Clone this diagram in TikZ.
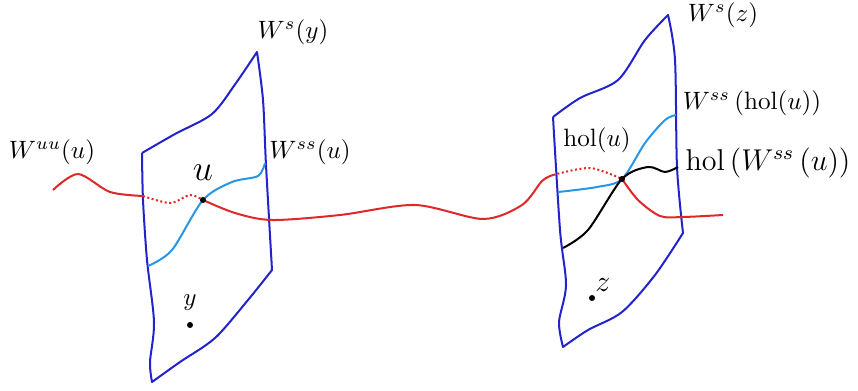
\documentclass[tikz,border=0pt]{standalone}
\usepackage{amsmath,amssymb}
\usepackage{xcolor}
\usepackage{tikz}

\definecolor{sheetblue}{RGB}{35,35,205}
\definecolor{leafblue}{RGB}{40,150,230}
\definecolor{curvered}{RGB}{225,40,40}

\begin{document}
\begin{tikzpicture}[
  x=0.014cm, y=-0.014cm,
  % Curve styles
  sheet/.style={draw=sheetblue, line width=0.8pt, line join=round},
  strong/.style={draw=leafblue, line width=0.8pt},
  image/.style={draw=black, line width=0.8pt},
  unstable/.style={draw=curvered, line width=0.8pt},
  hidden/.style={unstable, densely dotted},
  dot/.style={fill=black},
  label/.style={inner sep=1pt}
]
\useasboundingbox (0,0) rectangle (858,390);

% ── Points ───────────────────────────────────────────────────────────────────
\coordinate (u)  at (203,200);
\coordinate (hu) at (622,179);
\coordinate (y)  at (190,325);
\coordinate (z)  at (592,298);

% ── Left sheet W^s(y) ────────────────────────────────────────────────────────
\draw[sheet] plot[smooth] coordinates {(142,153) (175,134) (212,114) (236,83) (257,52)}
  -- plot[smooth] coordinates {(257,52) (263,100) (266,165) (272,270)}
  -- plot[smooth] coordinates {(272,270) (248,300) (215,338) (180,362) (152,382)}
  -- plot[smooth] coordinates {(152,382) (150,362) (154,322) (147,260) (143,200) (142,153)};

% ── Right sheet W^s(z) ───────────────────────────────────────────────────────
\draw[sheet] plot[smooth] coordinates {(553,117) (580,98) (618,80) (645,40) (668,15)}
  -- plot[smooth] coordinates {(668,15) (675,60) (677,167) (683,233)}
  -- plot[smooth] coordinates {(683,233) (655,275) (622,312) (588,330) (563,347)}
  -- plot[smooth] coordinates {(563,347) (559,322) (566,285) (560,230) (553,117)};

% ── Strong stable leaves ─────────────────────────────────────────────────────
\draw[strong] plot[smooth] coordinates {(148,266) (172,250) (u) (232,182) (258,176) (265,163)};
\draw[strong] plot[smooth] coordinates {(558,192) (597,187) (hu) (645,143) (665,120) (676,115)};

% ── Holonomy image ───────────────────────────────────────────────────────────
\draw[image] plot[smooth] coordinates {(563,248) (588,230) (hu) (648,167) (665,172) (678,167)};

% ── Strong unstable curve W^uu(u) ────────────────────────────────────────────
\draw[unstable] plot[smooth] coordinates {(53,190) (78,174) (110,192) (143,196)};
\draw[hidden] plot[smooth] coordinates {(143,196) (170,203) (190,195) (u)};
\draw[unstable] plot[smooth] coordinates {(u) (235,213) (272,220) (340,215) (415,205) (483,219) (522,205) (542,181) (553,175)};
\draw[hidden] plot[smooth] coordinates {(553,175) (590,168) (hu)};
\draw[unstable] plot[smooth] coordinates {(hu) (638,200) (660,216) (683,217) (723,215)};

% ── Dots ─────────────────────────────────────────────────────────────────────
\fill[dot] (u)  circle (1.2pt);
\fill[dot] (hu) circle (1.2pt);
\fill[dot] (y)  circle (1.2pt);
\fill[dot] (z)  circle (1.2pt);

% ── Labels ───────────────────────────────────────────────────────────────────
\node[label] (lWsy)  at (293,32)  {$W^{s}(y)$};
\node[label] (lWuu)  at (52,152)  {$W^{uu}(u)$};
\node[label] (lWssu) at (310,152) {$W^{ss}(u)$};
\node[label, font=\Large] (lu) at (203,173) {$u$};
\node[label] (ly)    at (190,303) {$y$};
\node[label] (lWsz)  at (723,15)  {$W^{s}(z)$};
\node[label] (lWssh) at (752,103) {$W^{ss}\left(\operatorname{hol}(u)\right)$};
\node[label] (lhu)   at (597,140) {$\operatorname{hol}(u)$};
\node[label, font=\large] (lhW) at (768,163) {$\operatorname{hol}\left(W^{ss}\left(u\right)\right)$};
\node[label, font=\large] (lz) at (603,285) {$z$};

\end{tikzpicture}
\end{document}
